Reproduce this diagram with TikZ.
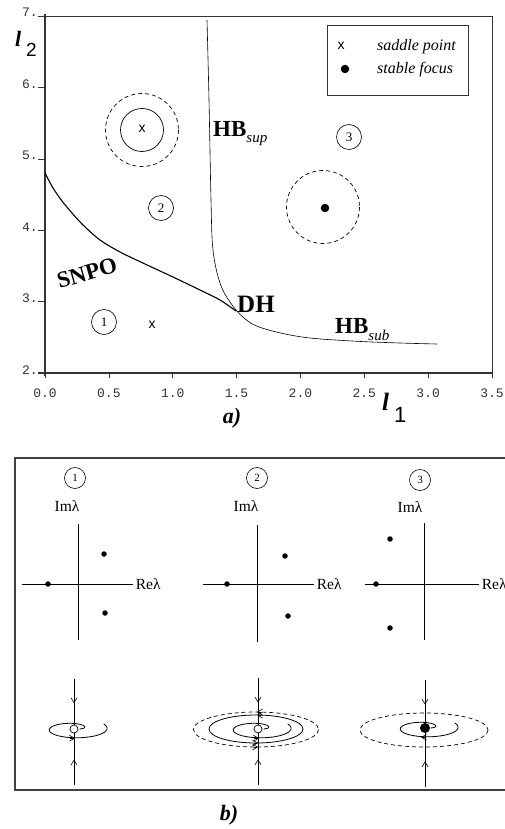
\documentclass[tikz,border=0pt]{standalone}
\usepackage{fontspec}
\setmainfont{Liberation Serif}
\setsansfont{Liberation Sans}
\setmonofont{Liberation Mono}
\usetikzlibrary{arrows.meta,decorations.markings}
\newcommand\myspiralR[1]{(4+29*sqrt((#1)/6.2832))}
\begin{document}
\begin{tikzpicture}[x=1pt,y=-1pt,
  >={Straight Barb[length=5pt,width=6pt,line width=0.6pt]},
  ticklab/.style={font=\ttfamily\fontsize{13}{13}\selectfont, text=black!80, inner sep=0pt},
  axisline/.style={line width=1.6pt, black!80},
  frameline/.style={line width=0.8pt, black!80},
  bif/.style={font=\bfseries\fontsize{23}{23}\selectfont, inner sep=0pt},
  circnum/.style={circle, draw, line width=0.6pt, minimum size=25pt, inner sep=0pt, font=\fontsize{13}{13}\selectfont},
  circnumsmall/.style={circle, draw, line width=0.6pt, minimum size=21pt, inner sep=0pt, font=\fontsize{11}{11}\selectfont},
  saddlemark/.style={font=\sffamily\fontsize{14}{14}\selectfont, inner sep=0pt},
  lam/.style={font=\fontsize{15.5}{15.5}\selectfont, inner sep=0pt},
  eig/.style={circle, fill, inner sep=0pt, minimum size=5.5pt},
  manifold/.style={line width=0.7pt, postaction={decorate}, decoration={markings,
     mark=at position 0.23 with {\arrow{>}}, mark=at position 0.76 with {\arrowreversed{>}}}},
  spiralline/.style={line width=0.8pt},
  opencrit/.style={circle, draw, fill=white, minimum size=8pt, inner sep=0pt, line width=0.7pt},
  fullcrit/.style={circle, fill, minimum size=10pt, inner sep=0pt},
  lbl/.style={font=\bfseries\itshape\fontsize{22}{22}\selectfont, inner sep=0pt}
]
\useasboundingbox (0,0) rectangle (504,829);

% ---------------- panel a ----------------
\draw[frameline] (45,16) -- (492,16) -- (492,378);
\draw[axisline] (45,14) -- (45,376);
\draw[axisline] (38,373) -- (493,373);
% y ticks
\foreach \v/\yy in {7/16,6/87.5,5/159,4/230,3/301.5,2/373}{
  \draw[black!80, line width=0.7pt] (38,\yy) -- (45,\yy);
  \node[ticklab, anchor=base east] (yt\v) at (38,\yy+1) {\v.};
}
% x ticks
\foreach \lab [count=\i from 0] in {0.0,0.5,1.0,1.5,2.0,2.5,3.0,3.5}{
  \pgfmathsetmacro\xx{45+\i*63.86}
  \draw[black!80, line width=0.7pt] (\xx,373) -- (\xx,378);
  \node[ticklab, anchor=base] (xt\i) at (\xx,397) {\lab};
}
% axis labels
\node[font=\bfseries\itshape\fontsize{22}{22}\selectfont, inner sep=0pt, anchor=base west] (l2) at (15,47) {l};
\node[font=\sffamily\fontsize{19}{19}\selectfont, inner sep=0pt, anchor=base west] (l2s) at (26,57) {2};
\node[font=\bfseries\itshape\fontsize{25}{25}\selectfont, inner sep=0pt, anchor=base west] (l1) at (382,410) {l};
\node[font=\sffamily\fontsize{22}{22}\selectfont, inner sep=0pt, anchor=base west] (l1s) at (394,422) {1};
\node[lbl] (lbla) at (232,418) {a)};

% bifurcation curves
\draw[line width=1.1pt] plot[smooth, tension=0.5] coordinates {(45,173) (53,188) (62,201) (72,213) (83,225) (100,240) (120,252) (145,264) (173,277) (200,290) (220,300) (236,311)};
\draw[line width=0.6pt] plot[smooth, tension=0.6] coordinates {(207,20) (209,100) (211,200) (213,250) (220,283) (230,302) (244,318) (262,328) (302,337) (352,341) (400,343) (437,344)};

\node[bif, rotate=16] (snpo) at (87,273) {SNPO};
\node[bif, font=\bfseries\fontsize{25}{25}\selectfont, anchor=base west] (dh) at (237,312) {DH};
\node[bif, anchor=base west] (hbsup) at (213,137) {HB\raisebox{-6pt}{\mdseries\itshape\fontsize{15}{15}\selectfont sup}};
\node[bif, anchor=base west] (hbsub) at (335,333) {HB\raisebox{-7pt}{\mdseries\itshape\fontsize{15}{15}\selectfont sub}};

% region markers
\node[circnum] (r1) at (104,322) {1};
\node[circnum] (r2) at (161,208) {2};
\node[circnum] (r3) at (349,137) {3};
\node[saddlemark] (s1) at (152,325) {x};
\draw[line width=0.7pt] (142,130) circle [radius=21.5];
\draw[line width=0.7pt, dashed, dash pattern=on 4pt off 3pt] (142,130) circle [radius=36.5];
\node[saddlemark] (s2) at (142,129) {x};
\draw[line width=0.7pt, dashed, dash pattern=on 4pt off 3pt] (323,207) circle [radius=36.5];
\node[fullcrit, minimum size=8.5pt] (f3) at (325,208) {};

% legend
\draw[frameline] (327,25) rectangle (468,95);
\node[saddlemark] (legx) at (341,46) {x};
\node[fullcrit, minimum size=8.5pt] (legdot) at (345,69) {};
\node[font=\itshape\fontsize{16}{16}\selectfont, inner sep=0pt, anchor=west] (legt1) at (377,47) {saddle point};
\node[font=\itshape\fontsize{16}{16}\selectfont, inner sep=0pt, anchor=west] (legt2) at (377,70) {stable focus};

% ---------------- panel b ----------------
\draw[line width=1.2pt, black!75] (508,458) -- (15,458) -- (15,790) -- (508,790);
\node[lbl] (lblb) at (229,815) {b)};

% eigenvalue diagrams
\node[circnumsmall] (c1) at (75,478) {1};
\node[circnumsmall] (c2) at (257,478) {2};
\node[circnumsmall] (c3) at (420,480) {3};
\node[lam] (im1) at (67,506) {Imλ};
\node[lam] (im2) at (246,506) {Imλ};
\node[lam] (im3) at (410,507) {Imλ};

\coordinate (v1t) at (78,524); \coordinate (v1b) at (78,640);
\coordinate (h1l) at (22,584); \coordinate (h1r) at (133,584);
\draw[line width=0.8pt] (v1t) -- (v1b) (h1l) -- (h1r);
\node[lam, anchor=west] (re1) at (h1r) {\,Reλ};
\node[eig] (e11) at (48,584) {};
\node[eig] (e12) at (104,554) {};
\node[eig] (e13) at (105,613) {};

\coordinate (v2t) at (257,525); \coordinate (v2b) at (257,642);
\coordinate (h2l) at (203,584); \coordinate (h2r) at (314,584);
\draw[line width=0.8pt] (v2t) -- (v2b) (h2l) -- (h2r);
\node[lam, anchor=west] (re2) at (h2r) {\,Reλ};
\node[eig] (e21) at (227,584) {};
\node[eig] (e22) at (285,556) {};
\node[eig] (e23) at (288,616) {};

\coordinate (v3t) at (424,523); \coordinate (v3b) at (424,640);
\coordinate (h3l) at (365,584); \coordinate (h3r) at (479,584);
\draw[line width=0.8pt] (v3t) -- (v3b) (h3l) -- (h3r);
\node[lam, anchor=west] (re3) at (h3r) {\,Reλ};
\node[eig] (e31) at (376,584) {};
\node[eig] (e32) at (390,539) {};
\node[eig] (e33) at (390,628) {};

% phase portraits
% 1
\coordinate (p1t) at (74,679); \coordinate (p1b) at (74,785);
\draw[manifold] (p1t) -- (p1b);
\draw[spiralline] plot[domain=0.02:6.8, samples=100, variable=\t]
  ({74+\myspiralR{\t}*cos(\t r)}, {729-0.3*\myspiralR{\t}*sin(\t r)});
\draw[line width=0.7pt, ->] (70,738.2) -- (75,738.2);
\node[opencrit] (o1) at (74,729) {};

% 2
\coordinate (p2t) at (258,678); \coordinate (p2b) at (258,785);
\draw[manifold] (p2t) -- (p2b);
\draw[line width=0.7pt, dashed, dash pattern=on 4pt off 3pt] (256,729.5) ellipse [x radius=62.5, y radius=17.5];
\draw[line width=0.8pt] (256,729) ellipse [x radius=47, y radius=14];
\draw[spiralline] plot[domain=0.02:6.8, samples=100, variable=\t]
  ({258+\myspiralR{\t}*cos(\t r)}, {729-0.3*\myspiralR{\t}*sin(\t r)});
\draw[line width=0.7pt, ->] (261,712) -- (257,712);
\draw[line width=0.7pt, ->] (261,715) -- (257,715);
\draw[line width=0.7pt, ->] (254,738.2) -- (259,738.2);
\draw[line width=0.7pt, ->] (254,743) -- (258,743);
\draw[line width=0.7pt, ->] (254,747) -- (258,747);
\node[opencrit] (o2) at (258,729) {};

% 3
\coordinate (p3t) at (425,680); \coordinate (p3b) at (425,787);
\draw[manifold] (p3t) -- (p3b);
\draw[line width=0.7pt, dashed, dash pattern=on 4pt off 3pt] (424,730) ellipse [x radius=64, y radius=17];
\draw[spiralline] plot[domain=0.02:6.8, samples=100, variable=\t]
  ({425+\myspiralR{\t}*cos(\t r)}, {728-0.3*\myspiralR{\t}*sin(\t r)});
\draw[line width=0.7pt, ->] (426,737.2) -- (421,737.2);
\node[fullcrit] (f3b) at (425,728) {};
\end{tikzpicture}
\end{document}
